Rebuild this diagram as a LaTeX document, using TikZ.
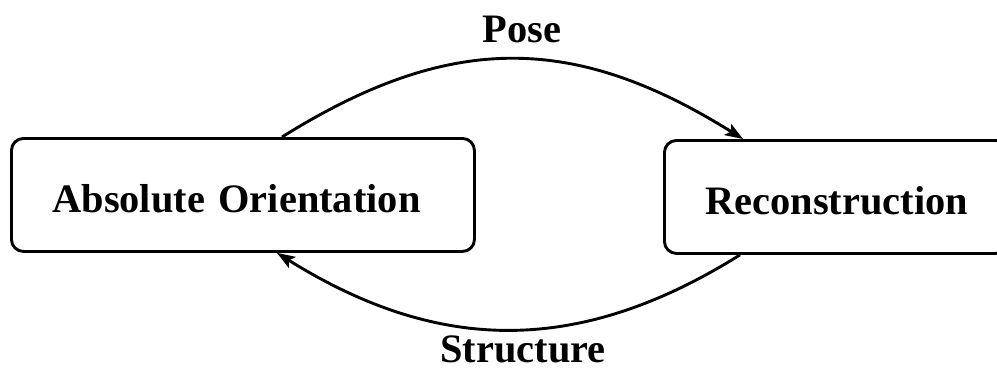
\documentclass[tikz,border=0pt]{standalone}
\usepackage{fontspec}
\setmainfont{Liberation Serif}
\usetikzlibrary{arrows.meta,calc}
\begin{document}
\begin{tikzpicture}[x=1pt,y=-1pt,
  box/.style={draw, line width=2.9pt, rounded corners=12pt, minimum height=113pt,
    inner xsep=41pt, inner ysep=0pt, align=left, anchor=north west,
    text height=36pt, text depth=0pt,
    font=\fontsize{40.4}{44}\selectfont\bfseries},
  flow/.style={line width=2.9pt, -{Stealth[length=18pt,width=13pt,inset=4pt]}},
  tag/.style={font=\fontsize{40.4}{44}\selectfont\bfseries, anchor=base, inner sep=0pt}]
\useasboundingbox (0,0) rectangle (997,370);
\clip (0,0) rectangle (997,370);
% the two stages
\node[box, text width=381pt] (abs) at (10,137) {Absolute Orientation};
\node[box, text width=261pt] (rec) at (663,139) {Reconstruction};
% the loop between them
\draw[flow] ([xshift=272pt]abs.north west) to[out=32,in=148,looseness=1.1]
  ([xshift=80pt]rec.north west);
\draw[flow] ([xshift=77pt]rec.south west) to[out=-148,in=-32,looseness=1.05]
  ([xshift=267pt]abs.south west);
% labels of the loop
\node[tag] (pose) at (522,42) {Pose};
\node[tag] (struct) at (523,362) {Structure};
\end{tikzpicture}
\end{document}
